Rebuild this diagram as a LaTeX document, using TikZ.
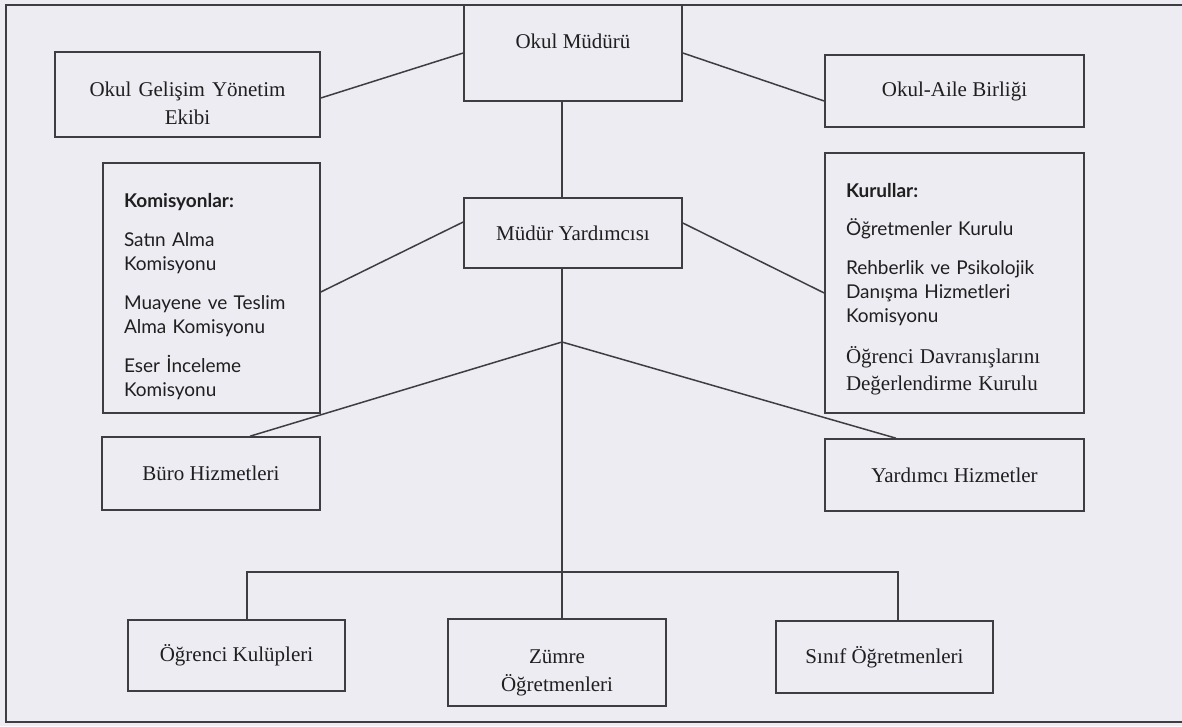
\documentclass[tikz,border=0pt]{standalone}
\usepackage{fontspec}
\setmainfont{Liberation Serif}
\newfontfamily\gillfont{Lato}
\usepackage{tikz}
\usetikzlibrary{calc}
\definecolor{paper}{RGB}{237,236,242}
\definecolor{ink}{RGB}{62,62,66}
\tikzset{
	% Two box styles for the chart: plain serif boxes and list boxes
	unit box/.style={draw=ink,line width=1.6pt,inner sep=0pt,text=black!88,font=\fontsize{21}{28}\selectfont},
	list box/.style={unit box,align=left,inner xsep=21pt,inner ysep=0pt,font=\gillfont\fontsize{19}{24}\selectfont},
	chart line/.style={draw=ink,line width=1.5pt}
}
\begin{document}
\begin{tikzpicture}[x=1pt,y=-1pt]
	\useasboundingbox[fill=paper](0,0)rectangle(1182,726);
	% outer frame, open on the right
	\draw[ink,line width=2.6pt](1182,5)--(6,5)--(6,722)--(1182,722);
	
	\node(mudur)[unit box,minimum width=218pt,minimum height=96pt,text depth=24pt] at(573,53){Okul Müdürü};
	\node(gelisim)[unit box,text width=265pt,minimum height=85pt,align=center] at(187.5,94.5){\rule{0pt}{33pt}Okul Gelişim Yönetim\\Ekibi};
	\node(aile)[unit box,minimum width=259pt,minimum height=72pt] at(954.5,91){Okul-Aile Birliği};
	\node(yardimci)[unit box,minimum width=218pt,minimum height=70pt] at(573,233){Müdür Yardımcısı};
	
	\node(komisyon)[list box,text width=175pt,minimum height=250pt] at(211.5,288){%
		\rule{0pt}{31pt}\textbf{Komisyonlar:}\\[15pt]
		Satın Alma\\Komisyonu\\[15pt]
		Muayene ve Teslim\\Alma Komisyonu\\[15pt]
		Eser İnceleme\\Komisyonu};
	\node(kurul)[list box,text width=217pt,minimum height=260pt] at(954.5,283){%
		\rule{0pt}{26pt}\textbf{Kurullar:}\\[14pt]
		Öğretmenler Kurulu\\[15pt]
		Rehberlik ve Psikolojik\\Danışma Hizmetleri\\Komisyonu\par\vspace{14pt}
		{\rmfamily\fontsize{21}{27}\selectfont Öğrenci Davranışlarını\\Değerlendirme Kurulu\par}};
	
	\node(buro)[unit box,minimum width=218pt,minimum height=73pt] at(211,473.5){Büro Hizmetleri};
	\node(hizmet)[unit box,minimum width=259pt,minimum height=72pt] at(954.5,475){Yardımcı Hizmetler};
	
	\node(kulup)[unit box,minimum width=217pt,minimum height=71pt] at(236.5,655.5){Öğrenci Kulüpleri};
	\node(zumre)[unit box,text width=218pt,minimum height=87pt,align=center] at(557,662.5){\rule{0pt}{35pt}Zümre\\Öğretmenleri};
	\node(sinif)[unit box,minimum width=217pt,minimum height=72pt] at(884.5,657){Sınıf Öğretmenleri};
	
	% branching points
	\coordinate(jct) at(562,342);
	\coordinate(bus) at(562,572);
	
	\draw[chart line](mudur.west)--([yshift=-3.5pt]gelisim.east);
	\draw[chart line](mudur.east)--([yshift=-10pt]aile.west);
	\draw[chart line](mudur.south -| jct)--(yardimci.north -| jct);
	\draw[chart line]([yshift=11pt]yardimci.west)--([yshift=-4pt]komisyon.east);
	\draw[chart line]([yshift=10pt]yardimci.east)--([yshift=-10pt]kurul.west);
	\draw[chart line](yardimci.south -| jct)--(jct);
	\draw[chart line]([xshift=39pt]buro.north)--(jct)--([xshift=-58.5pt]hizmet.north);
	\draw[chart line](jct)--(zumre.north -| jct);
	\draw[chart line]([xshift=10.5pt]kulup.north)|-(bus)-|([xshift=13.5pt]sinif.north);
\end{tikzpicture}
\end{document}
